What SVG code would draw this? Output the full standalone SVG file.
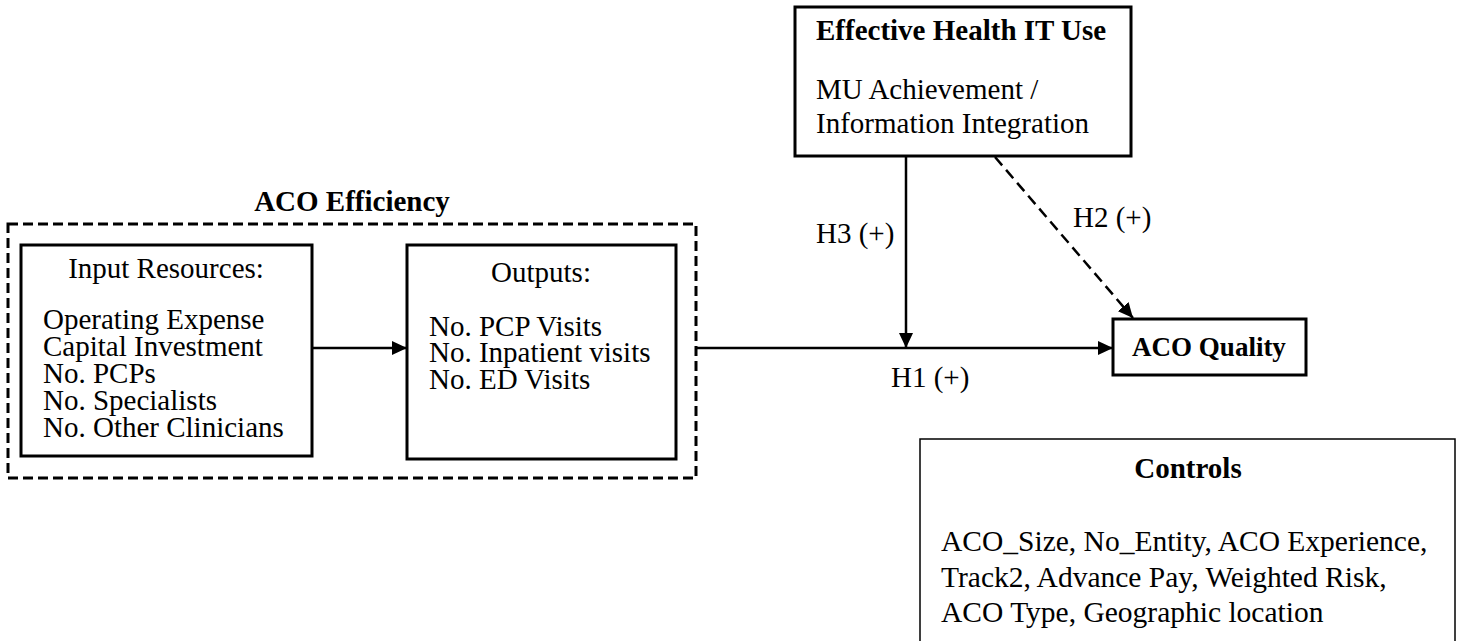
<svg xmlns="http://www.w3.org/2000/svg" width="1460" height="641" viewBox="0 0 1460 641">
  <style>
    .box { fill: #fff; stroke: #000; stroke-width: 3; }
    .thin { fill: #fff; stroke: #000; stroke-width: 1.5; }
    .group { fill: none; stroke: #000; stroke-width: 3; stroke-dasharray: 10 5; }
    .t { font-family: "Liberation Serif", "Times New Roman", serif; font-size: 29px; fill: #000; }
    .b { font-weight: bold; }
    .mid { text-anchor: middle; }
    .ctl { font-size: 29.5px; }
    .q { font-size: 27px; }
    .edge { fill: none; stroke: #000; stroke-width: 2.5; }
    .dash { stroke-dasharray: 11 6; }
  </style>
  <defs>
    <marker id="arrow" markerUnits="userSpaceOnUse" markerWidth="16" markerHeight="14" refX="15" refY="7" orient="auto">
      <path d="M0,0 L15,7 L0,14 z" fill="#000"/>
    </marker>
  </defs>

  <!-- ACO Efficiency grouping (dashed frame) -->
  <g id="aco-efficiency">
    <rect class="group" x="8" y="224" width="688" height="254"/>
    <text class="t b mid" x="352" y="211">ACO Efficiency</text>
  </g>

  <g id="input-resources">
    <rect class="box" x="21" y="245" width="291" height="211"/>
    <text class="t mid" x="166" y="278">Input Resources:</text>
    <text class="t" x="43" y="329">Operating Expense</text>
    <text class="t" x="43" y="356">Capital Investment</text>
    <text class="t" x="43" y="383">No. PCPs</text>
    <text class="t" x="43" y="410">No. Specialists</text>
    <text class="t" x="43" y="437">No. Other Clinicians</text>
  </g>

  <g id="outputs">
    <rect class="box" x="407" y="245" width="269" height="214"/>
    <text class="t mid" x="541" y="282">Outputs:</text>
    <text class="t" x="429" y="336">No. PCP Visits</text>
    <text class="t" x="429" y="362">No. Inpatient visits</text>
    <text class="t" x="429" y="389">No. ED Visits</text>
  </g>

  <g id="health-it">
    <rect class="box" x="795" y="7" width="336" height="149"/>
    <text class="t b" x="816" y="40">Effective Health IT Use</text>
    <text class="t" x="816" y="99">MU Achievement /</text>
    <text class="t" x="816" y="133">Information Integration</text>
  </g>

  <g id="aco-quality">
    <rect class="box" x="1113" y="319" width="193" height="56"/>
    <text class="t b mid q" x="1209" y="356">ACO Quality</text>
  </g>

  <g id="controls">
    <rect class="thin" x="920" y="439" width="535" height="230"/>
    <text class="t b mid" x="1188" y="478">Controls</text>
    <text class="t ctl" x="941" y="551">ACO_Size, No_Entity, ACO Experience,</text>
    <text class="t ctl" x="941" y="587">Track2, Advance Pay, Weighted Risk,</text>
    <text class="t ctl" x="941" y="622">ACO Type, Geographic location</text>
  </g>

  <g id="connectors">
    <path class="edge" d="M312 348 H407" marker-end="url(#arrow)"/>
    <path class="edge" d="M696 348 H1113" marker-end="url(#arrow)"/>
    <path class="edge" d="M906 156 V348" marker-end="url(#arrow)"/>
    <path class="edge dash" d="M995 157 L1133 318" marker-end="url(#arrow)"/>
    <text class="t" x="891" y="387">H1 (+)</text>
    <text class="t" x="1073" y="227">H2 (+)</text>
    <text class="t" x="816" y="243">H3 (+)</text>
  </g>
</svg>
